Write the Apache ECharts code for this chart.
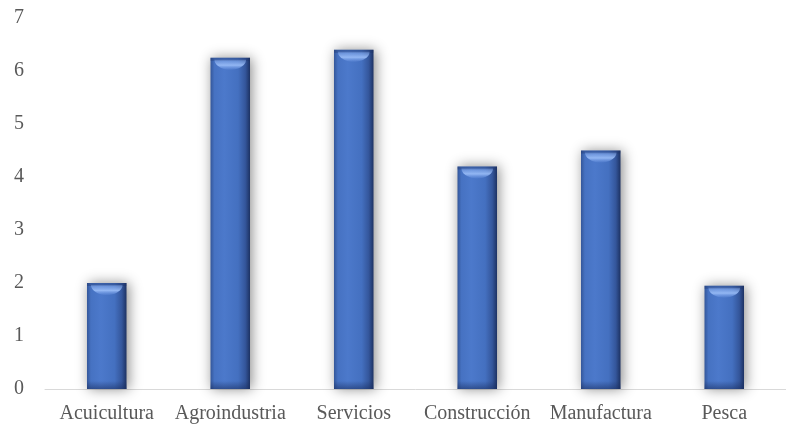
<!DOCTYPE html>
<html>
<head>
<meta charset="utf-8">
<script src="https://cdn.jsdelivr.net/npm/echarts@6/dist/echarts.min.js"></script>
<style>
  html, body { margin: 0; padding: 0; background: #ffffff; }
  #chart { width: 786px; height: 428px; }
</style>
</head>
<body>
<div id="chart"></div>
<script>
// Sector names along the category axis
const categories = ['Acuicultura', 'Agroindustria', 'Servicios', 'Construcción', 'Manufactura', 'Pesca'];
// Value for each sector
const values = [2.0, 6.25, 6.4, 4.2, 4.5, 1.95];
// Value axis tick labels
const yTicks = [0, 1, 2, 3, 4, 5, 6, 7];

const chart = echarts.init(document.getElementById('chart'), null, { renderer: 'canvas' });

const labelFont = { fontFamily: '"Liberation Serif", "Times New Roman", serif', color: '#595959' };

// Bevelled bar: body with side shading, soft cast shadow, top highlight, darker base
function renderBar(params, api) {
  const idx = api.value(0);
  const v = api.value(1);
  const top = api.coord([idx, v]);
  const base = api.coord([idx, 0]);
  const bw = api.size([1, 0])[0] * 0.32;
  const x = top[0] - bw / 2;
  const y = top[1];
  const h = base[1] - top[1];
  const cx = top[0];

  // highlight lens under the top edge
  const pts = [];
  const rx = bw / 2 - 4;
  const ry = 10;
  const hy = y + 2;
  for (let k = 0; k <= 24; k++) {
    const a = Math.PI * k / 24;
    pts.push([cx - rx * Math.cos(a), hy + ry * Math.sin(a)]);
  }

  return {
    type: 'group',
    children: [
      {
        type: 'rect',
        shape: { x: x, y: y, width: bw, height: h },
        style: {
          fill: {
            type: 'linear', x: 0, y: 0, x2: 1, y2: 0,
            colorStops: [
              { offset: 0, color: '#34579a' },
              { offset: 0.1, color: '#4672c2' },
              { offset: 0.35, color: '#4c79cb' },
              { offset: 0.7, color: '#4470c0' },
              { offset: 0.88, color: '#34569b' },
              { offset: 1, color: '#1d3263' }
            ]
          },
          shadowBlur: 12,
          shadowColor: 'rgba(0,0,0,0.45)',
          shadowOffsetX: 2,
          shadowOffsetY: 0
        }
      },
      {
        type: 'rect',
        shape: { x: x, y: y, width: bw, height: 3 },
        style: { fill: 'rgba(30,50,100,0.35)' }
      },
      {
        type: 'polygon',
        shape: { points: pts },
        style: {
          fill: {
            type: 'linear', x: 0, y: 0, x2: 0, y2: 1,
            colorStops: [
              { offset: 0, color: 'rgba(150,185,245,0.3)' },
              { offset: 0.55, color: 'rgba(155,190,248,0.9)' },
              { offset: 1, color: 'rgba(120,160,235,0.15)' }
            ]
          }
        }
      },
      {
        type: 'rect',
        shape: { x: x, y: y + h - 8, width: bw, height: 8 },
        style: {
          fill: {
            type: 'linear', x: 0, y: 0, x2: 0, y2: 1,
            colorStops: [
              { offset: 0, color: 'rgba(25,45,95,0)' },
              { offset: 1, color: 'rgba(25,45,95,0.55)' }
            ]
          }
        }
      }
    ]
  };
}

chart.setOption({
  backgroundColor: '#ffffff',
  animation: false,
  grid: { left: 45, top: 18, width: 752, height: 371 },
  xAxis: {
    type: 'category',
    data: categories,
    axisLine: { show: true, lineStyle: { color: '#d9d9d9', width: 1 } },
    axisTick: { show: false },
    axisLabel: Object.assign({ fontSize: 20, margin: 15, interval: 0 }, labelFont)
  },
  yAxis: {
    type: 'value',
    min: yTicks[0],
    max: yTicks[yTicks.length - 1],
    interval: 1,
    axisLine: { show: false },
    axisTick: { show: false },
    splitLine: { show: false },
    axisLabel: Object.assign({ fontSize: 20, margin: 21 }, labelFont)
  },
  series: [{
    type: 'custom',
    renderItem: renderBar,
    encode: { x: 0, y: 1 },
    data: values.map((v, i) => [i, v])
  }]
});
</script>
</body>
</html>
